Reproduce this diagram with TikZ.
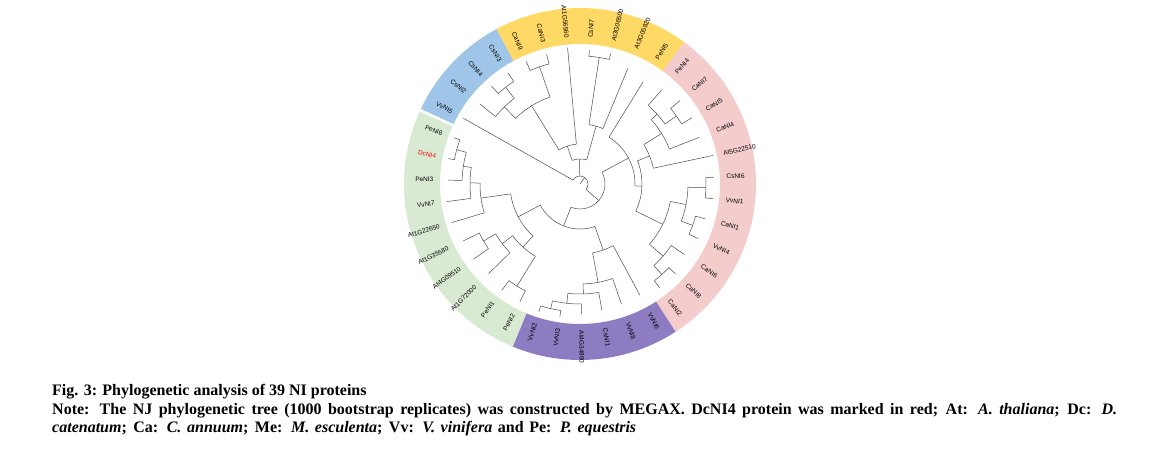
\documentclass[tikz,border=0pt]{standalone}
\usepackage{fontspec}
\setmainfont{Liberation Serif}
\newfontfamily\labfont{Liberation Sans}
\definecolor{ryel}{HTML}{FFD966}
\definecolor{rblu}{HTML}{9FC5E8}
\definecolor{rpnk}{HTML}{F4CCCC}
\definecolor{rpur}{HTML}{8E7CC3}
\definecolor{rgrn}{HTML}{D9EAD3}
\newcommand\Leaf[4]{%
  \pgfmathsetmacro\myang{150.6-9.230769*#1}%
  \draw[br] (\myang:#3pt) -- (\myang:#4pt);
  \draw[lead] (\myang:#4pt) -- (\myang:146pt);
  \pgfmathtruncatemacro\myside{cos(\myang)>=0}%
  \ifnum\myside=1
    \node[lab, rotate=\myang, anchor=west] (l#1) at (\myang:146.5pt) {#2};
  \else
    \pgfmathsetmacro\myrot{\myang+180}%
    \node[lab, rotate=\myrot, anchor=east] (l#1) at (\myang:146.5pt) {#2};
  \fi}
\newcommand\Clade[4]{%
  \pgfmathsetmacro\mya{150.6-9.230769*#1}%
  \pgfmathsetmacro\myb{150.6-9.230769*#2}%
  \pgfmathsetmacro\mymid{150.6-9.230769*(#1+#2)/2}%
  \draw[br] (\mya:#3pt) arc[start angle=\mya, end angle=\myb, radius=#3pt];
  \draw[br] (\mymid:#4pt) -- (\mymid:#3pt);}
\newcommand\Sector[3]{%
  \fill[#3] (#1:176pt) arc[start angle=#1, end angle=#2, radius=176pt]
    -- (#2:140pt) arc[start angle=#2, end angle=#1, radius=140pt] -- cycle;}
\begin{document}
\begin{tikzpicture}[x=1pt,y=1pt,
  br/.style={draw=black!70, line width=0.5pt},
  lead/.style={draw=black!30, dotted, line width=0.3pt},
  lab/.style={font=\labfont\fontsize{6.5}{7.5}\selectfont, inner sep=0pt, text=black},
  captxt/.style={font=\bfseries\fontsize{16}{18}\selectfont, inner sep=0pt, anchor=base west}]
\useasboundingbox (0,0) rectangle (1167,-452);
\fill[white] (0,0) rectangle (1167,-452);
\coordinate (C) at (580,-184);
\begin{scope}[shift={(C)}]
  % ring
  \Sector{155.2}{118.3}{rblu}
  \Sector{118.3}{53.7}{ryel}
  \Sector{53.7}{-57.1}{rpnk}
  \Sector{-57.1}{-112.5}{rpur}
  \Sector{-112.5}{-204.8}{rgrn}
  \draw[white, line width=2.5pt] (155.2:139pt) -- (155.2:177pt);
  % tree: internal nodes {k1}{k2}{r}{parent r}
  \Clade{0}{20.8203125}{8}{0}
  \Clade{2}{3}{122}{108}
  \Clade{1}{2.5}{108}{92}
  \Clade{4}{5}{124}{92}
  \Clade{1.75}{4.5}{92}{40}
  \Clade{3.125}{6}{40}{25}
  \Clade{7}{8}{128}{60}
  \Clade{7.5}{9}{60}{25}
  \Clade{4.5625}{8.25}{25}{8}
  \Clade{12}{13}{118}{104}
  \Clade{11}{12.5}{104}{96}
  \Clade{11.75}{14}{96}{75}
  \Clade{12.875}{15}{75}{62}
  \Clade{16}{17}{126}{108}
  \Clade{18}{19}{120}{108}
  \Clade{16.5}{18.5}{108}{92}
  \Clade{21}{22}{122}{110}
  \Clade{20}{21.5}{110}{92}
  \Clade{17.5}{20.75}{92}{62}
  \Clade{13.9375}{19.125}{62}{55}
  \Clade{10}{16.53125}{55}{25}
  \Clade{27}{28}{128}{120}
  \Clade{26}{27.5}{120}{110}
  \Clade{25}{26.75}{110}{100}
  \Clade{24}{25.875}{100}{70}
  \Clade{23}{24.9375}{70}{45}
  \Clade{29}{30}{120}{85}
  \Clade{32}{33}{112}{98}
  \Clade{31}{32.5}{98}{85}
  \Clade{29.5}{31.75}{85}{70}
  \Clade{37}{38}{128}{118}
  \Clade{36}{37.5}{118}{110}
  \Clade{35}{36.75}{110}{100}
  \Clade{34}{35.875}{100}{70}
  \Clade{30.625}{34.9375}{70}{45}
  \Clade{23.96875}{32.78125}{45}{25}
  \Clade{13.265625}{28.375}{25}{8}
  % leaves {k}{text}{parent r}{tip r}
  \Leaf{0}{VvNI5}{8}{134}
  \Leaf{1}{CsNI2}{108}{128}
  \Leaf{2}{CsNI4}{122}{132}
  \Leaf{3}{CsNI3}{122}{132}
  \Leaf{4}{CaNI9}{124}{134}
  \Leaf{5}{CaNI3}{124}{134}
  \Leaf{6}{At1G56560}{40}{137}
  \Leaf{7}{CsNI7}{128}{134}
  \Leaf{8}{At3G06500}{128}{134}
  \Leaf{9}{At3G05820}{60}{125}
  \Leaf{10}{PeNI5}{55}{120}
  \Leaf{11}{PeNI4}{104}{125}
  \Leaf{12}{CaNI7}{118}{130}
  \Leaf{13}{CaNI5}{118}{130}
  \Leaf{14}{CaNI4}{96}{128}
  \Leaf{15}{At5G22510}{75}{136}
  \Leaf{16}{CsNI6}{126}{134}
  \Leaf{17}{VvNI1}{126}{134}
  \Leaf{18}{CaNI1}{120}{130}
  \Leaf{19}{VvNI4}{120}{130}
  \Leaf{20}{CaNI6}{110}{126}
  \Leaf{21}{CaNI8}{122}{131}
  \Leaf{22}{CaNI2}{122}{131}
  \Leaf{23}{VvNI6}{70}{126}
  \Leaf{24}{VvNI8}{100}{127}
  \Leaf{25}{CsNI1}{110}{128}
  \Leaf{26}{At4G34860}{120}{130}
  \Leaf{27}{VvNI3}{128}{134}
  \Leaf{28}{VvNI2}{128}{134}
  \Leaf{29}{PeNI2}{120}{132}
  \Leaf{30}{PeNI1}{120}{132}
  \Leaf{31}{At1G72000}{98}{128}
  \Leaf{32}{At4G09510}{112}{130}
  \Leaf{33}{At1G35580}{112}{130}
  \Leaf{34}{At1G22650}{100}{134}
  \Leaf{35}{VvNI7}{110}{134}
  \Leaf{36}{PeNI3}{118}{132}
  \Leaf{37}{\textcolor{red}{DcNI4}}{128}{134}
  \Leaf{38}{PeNI6}{128}{134}
\end{scope}
\node[captxt] (cap1) at (52,-395.5) {Fig. 3: Phylogenetic analysis of 39 NI proteins};
\node[captxt] (cap2) at (52,-414) {\makebox[1065pt][s]{Note: The NJ phylogenetic tree (1000 bootstrap replicates) was constructed by MEGAX. DcNI4 protein was marked in red; At: \textit{A. thaliana}; Dc: \textit{D.}}};
\node[captxt] (cap3) at (52,-432.5) {\makebox[584pt][s]{\textit{catenatum}; Ca: \textit{C. annuum}; Me: \textit{M. esculenta}; Vv: \textit{V. vinifera} and Pe: \textit{P. equestris}}};
\end{tikzpicture}
\end{document}
